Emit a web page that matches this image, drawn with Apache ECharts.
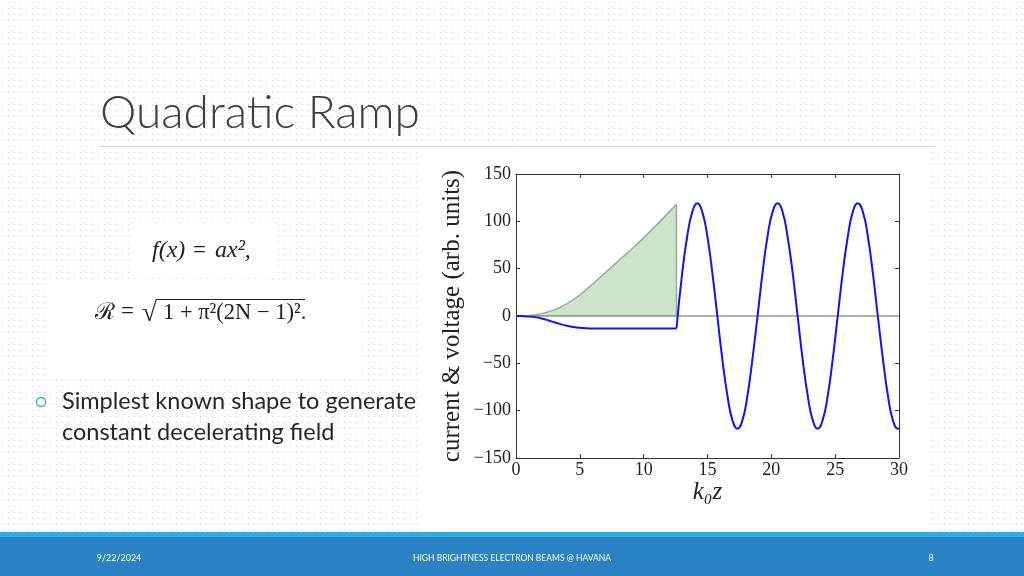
<!DOCTYPE html>
<html>
<head>
<meta charset="utf-8">
<script src="https://cdn.jsdelivr.net/npm/echarts@6/dist/echarts.min.js"></script>
<style>
html,body{margin:0;padding:0;background:#fff;}
#c{width:1024px;height:576px;}
</style>
</head>
<body>
<div id="c"></div>
<script>
// ---- data ----
const greenX = [0,0.5,1,1.5,2,2.5,3,3.5,4,4.5,5,5.5,6,7,8,9,10,11,12,12.57,12.57];
const greenY = [0,0.1,0.5,1.3,2.5,4.2,6.5,9.3,13,17.2,22.2,27.8,33.8,45.8,58,70,82.5,96,110,118,0];

const rampX = [0,0.5,1,1.5,2,2.5,3,3.5,4,4.5,5,5.5,6,8,10,12.57];
const rampY = [0,-0.1,-0.4,-1.2,-2.6,-4.5,-6.6,-8.6,-10.3,-11.6,-12.5,-13,-13.2,-13.2,-13.2,-13.2];

const waveX = [12.57,13.02,13.41,13.81,14.2,14.59,14.99,15.38,15.77,16.16,16.56,16.95,17.35,17.74,18.13,18.52,18.92,19.31,19.70,20.10,20.49,20.88,21.27,21.67,22.06,22.45,22.85,23.24,23.63,24.02,24.42,24.81,25.20,25.59,25.99,26.38,26.77,27.17,27.56,27.95,28.34,28.74,29.13,29.52,29.92,30];
const waveY = [-13.2,45.5,84,110,119,110,84,45.5,0,-45.5,-84,-110,-119,-110,-84,-45.5,0,45.5,84,110,119,110,84,45.5,0,-45.5,-84,-110,-119,-110,-84,-45.5,0,45.5,84,110,119,110,84,45.5,0,-45.5,-84,-110,-119,-118.8];

const zeroX = [0,30];
const zeroY = [0,0];

const xTicks = [0,5,10,15,20,25,30];
const yTicks = [-150,-100,-50,0,50,100,150];

const xName = 'k₀z';
const yName = 'current & voltage (arb. units)';
const title = 'Quadratic Ramp';
const bullet1 = 'Simplest known shape to generate';
const bullet2 = 'constant decelerating field';
const footDate = '9/22/2024';
const footMid = 'HIGH BRIGHTNESS ELECTRON BEAMS @ HAVANA';
const footPage = '8';
// -----------------------------------------------

const zip = (xs, ys) => xs.map((x, i) => [x, ys[i]]);

const pat = document.createElement('canvas');
pat.width = 6; pat.height = 6;
const pctx = pat.getContext('2d');
pctx.fillStyle = '#b7d6dc';
pctx.fillRect(2, 2, 1, 1);

const serif = '"Liberation Serif", "DejaVu Serif", serif';
const minusFmt = v => (v < 0 ? '\u2212' + Math.abs(v) : String(v));

const chart = echarts.init(document.getElementById('c'), null, {renderer: 'canvas'});

const txt = (x, y, text, font, extra) => Object.assign({
  type: 'text', z: 5, x: x, y: y,
  style: Object.assign({text: text, font: font, fill: '#222', verticalAlign: 'middle'}, extra || {})
});

const option = {
  animation: false,
  backgroundColor: {image: pat, repeat: 'repeat'},
  grid: {left: 516, top: 174, width: 383, height: 284, containLabel: false},
  xAxis: [
    {
      type: 'value', min: xTicks[0], max: xTicks[xTicks.length - 1], interval: 5,
      position: 'bottom',
      axisLine: {show: true, onZero: false, lineStyle: {color: '#333', width: 1}},
      axisTick: {show: true, inside: true, length: 4, lineStyle: {color: '#333'}},
      splitLine: {show: false},
      axisLabel: {color: '#222', fontFamily: serif, fontSize: 18, margin: 3},
      name: xName, nameLocation: 'middle', nameGap: 19,
      nameTextStyle: {color: '#222', fontFamily: serif, fontStyle: 'italic', fontSize: 25}
    },
    {
      type: 'value', min: xTicks[0], max: xTicks[xTicks.length - 1], interval: 5,
      position: 'top',
      axisLine: {show: true, onZero: false, lineStyle: {color: '#333', width: 1}},
      axisTick: {show: true, inside: true, length: 4, lineStyle: {color: '#333'}},
      splitLine: {show: false},
      axisLabel: {show: false}
    }
  ],
  yAxis: [
    {
      type: 'value', min: yTicks[0], max: yTicks[yTicks.length - 1], interval: 50,
      position: 'left',
      axisLine: {show: true, onZero: false, lineStyle: {color: '#333', width: 1}},
      axisTick: {show: true, inside: true, length: 4, lineStyle: {color: '#333'}},
      splitLine: {show: false},
      axisLabel: {color: '#222', fontFamily: serif, fontSize: 18, margin: 5, formatter: minusFmt},
      name: yName, nameLocation: 'middle', nameGap: 51, nameRotate: 90,
      nameTextStyle: {color: '#222', fontFamily: serif, fontSize: 25}
    },
    {
      type: 'value', min: yTicks[0], max: yTicks[yTicks.length - 1], interval: 50,
      position: 'right',
      axisLine: {show: true, onZero: false, lineStyle: {color: '#333', width: 1}},
      axisTick: {show: true, inside: true, length: 4, lineStyle: {color: '#333'}},
      splitLine: {show: false},
      axisLabel: {show: false}
    }
  ],
  series: [
    {
      type: 'line', data: zip(zeroX, zeroY), symbol: 'none', z: 2,
      lineStyle: {color: '#b0b0b0', width: 2}
    },
    {
      type: 'line', data: zip(greenX, greenY), symbol: 'none', z: 3,
      lineStyle: {color: '#a0a8a0', width: 1.5},
      areaStyle: {color: 'rgba(20,140,20,0.32)', origin: 0}
    },
    {
      type: 'line', data: zip(rampX, rampY), symbol: 'none', smooth: 0.4, z: 4,
      lineStyle: {color: '#1515e6', width: 2}
    },
    {
      type: 'line', data: zip(waveX, waveY), symbol: 'none', smooth: 0.5, z: 4,
      lineStyle: {color: '#1515e6', width: 2}
    }
  ],
  graphic: [
    // title and underline
    {type: 'line', z: 1, shape: {x1: 100, y1: 146.5, x2: 935, y2: 146.5}, style: {stroke: '#d4d4d4', lineWidth: 1}},
    txt(100, 113, title, '300 46px Lato, "Open Sans", sans-serif', {fill: '#404040'}),
    // chart picture box
    {type: 'rect', z: -5, shape: {x: 421, y: 143, width: 509, height: 388}, style: {fill: '#ffffff'}},
    // formula boxes
    {type: 'rect', z: 1, shape: {x: 133, y: 222, width: 141, height: 53}, style: {fill: '#ffffff'}},
    {type: 'rect', z: 1, shape: {x: 45, y: 279, width: 317, height: 98}, style: {fill: '#ffffff'}},
    txt(152, 251, 'f(x)', 'italic 24px ' + serif),
    txt(193, 251, '=', '23px ' + serif),
    txt(215, 251, 'ax²,', 'italic 24px ' + serif),
    txt(95, 313, 'ℛ', '23px ' + serif),
    txt(121, 312, '=', '23px ' + serif),
    txt(142, 314, '√', '27px ' + serif),
    {type: 'line', z: 5, shape: {x1: 156, y1: 299.5, x2: 305, y2: 299.5}, style: {stroke: '#222', lineWidth: 1.2}},
    txt(163, 313, '1 + π²(2N − 1)².', '22.5px ' + serif),
    // bullet
    {type: 'circle', z: 5, shape: {cx: 41, cy: 402, r: 4.5}, style: {fill: 'none', stroke: '#34a6d2', lineWidth: 1.3}},
    txt(62, 401, bullet1, '23.5px Lato, sans-serif', {fill: '#262626'}),
    txt(62, 432, bullet2, '23.5px Lato, sans-serif', {fill: '#262626'}),
    // footer
    {type: 'rect', z: 1, shape: {x: 0, y: 532, width: 1024, height: 5}, style: {fill: '#2eaae2'}},
    {type: 'rect', z: 1, shape: {x: 0, y: 537, width: 1024, height: 39}, style: {fill: '#2a81c4'}},
    txt(119, 558, footDate, '9px Lato, sans-serif', {fill: '#ffffff', align: 'center'}),
    txt(512, 558, footMid, '8.5px Lato, sans-serif', {fill: '#ffffff', align: 'center'}),
    txt(931, 558, footPage, '9px Lato, sans-serif', {fill: '#ffffff', align: 'center'})
  ]
};

chart.setOption(option);
</script>
</body>
</html>
